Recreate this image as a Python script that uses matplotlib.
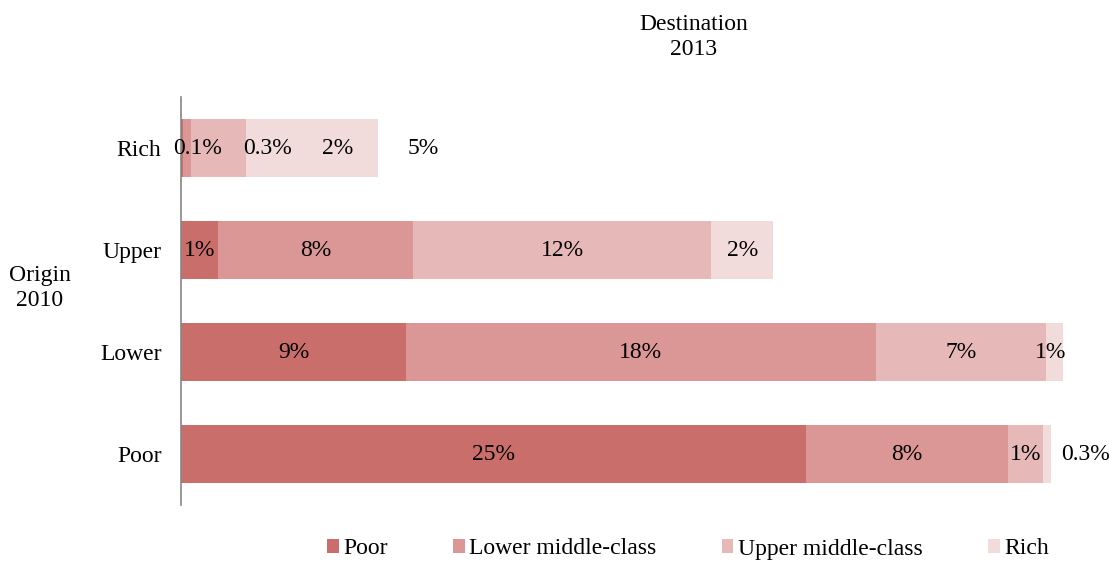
import numpy as np
import matplotlib.pyplot as plt

plt.rcParams['font.family'] = ['Liberation Serif', 'DejaVu Serif']

origins = ['Poor', 'Lower', 'Upper', 'Rich']
destinations = ['Poor', 'Lower middle-class', 'Upper middle-class', 'Rich']

# share of population (%) moving from origin (rows) to destination (columns)
to_poor = [25.0, 9.0, 1.5, 0.1]
to_lower = [8.1, 18.8, 7.8, 0.3]
to_upper = [1.4, 6.8, 11.9, 2.2]
to_rich = [0.3, 0.7, 2.5, 5.3]

lbl_poor = ['25%', '9%', '1%', '0.1%']
lbl_lower = ['8%', '18%', '8%', '0.3%']
lbl_upper = ['1%', '7%', '12%', '2%']
lbl_rich = ['0.3%', '1%', '2%', '5%']

colors = ['#C96E6A', '#DA9795', '#E6B8B7', '#F2DBDB']

# small labels nudged off their segment (origin index, dest index): shift in %
nudge = {(3, 0): 0.6, (3, 1): 3.2, (3, 2): 4.75, (3, 3): 4.45, (0, 3): 1.55, (1, 3): -0.15}

FS = 17

fig = plt.figure(figsize=(11.09, 5.63), dpi=100)
ax = fig.add_axes([0.1632, 0.103, 0.834, 0.7247])

y = np.arange(len(origins))
series = [to_poor, to_lower, to_upper, to_rich]
labels = [lbl_poor, lbl_lower, lbl_upper, lbl_rich]
left = np.zeros(len(origins))
for j, (vals, lbls, c, name) in enumerate(zip(series, labels, colors, destinations)):
    vals = np.array(vals)
    ax.barh(y, vals, left=left, height=0.57, color=c, label=name)
    for i in range(len(origins)):
        xc = left[i] + vals[i] / 2 + nudge.get((i, j), 0)
        ax.text(xc, y[i], lbls[i], ha='center', va='center', fontsize=FS)
    left = left + vals

ax.set_xlim(0, 37)
ax.set_ylim(-0.5, 3.5)
ax.set_yticks(y)
ax.set_yticklabels(origins, fontsize=FS)
ax.tick_params(axis='y', length=0, pad=14)
ax.set_xticks([])
for s in ['top', 'right', 'bottom']:
    ax.spines[s].set_visible(False)
ax.spines['left'].set_color('#868686')
ax.spines['left'].set_linewidth(1.2)

fig.text(40 / 1109, 1 - 288 / 563, 'Origin\n2010', ha='center', va='center', fontsize=FS)
fig.text(694 / 1109, 1 - 37 / 563, 'Destination\n2013', ha='center', va='center', fontsize=FS)

fig.legend(loc='center', bbox_to_anchor=(688 / 1109, 1 - 549 / 563), ncol=4, frameon=False,
           fontsize=FS, handlelength=0.5, handleheight=0.5, handletextpad=0.2,
           columnspacing=2.75)

plt.savefig('out.png', dpi=100)
